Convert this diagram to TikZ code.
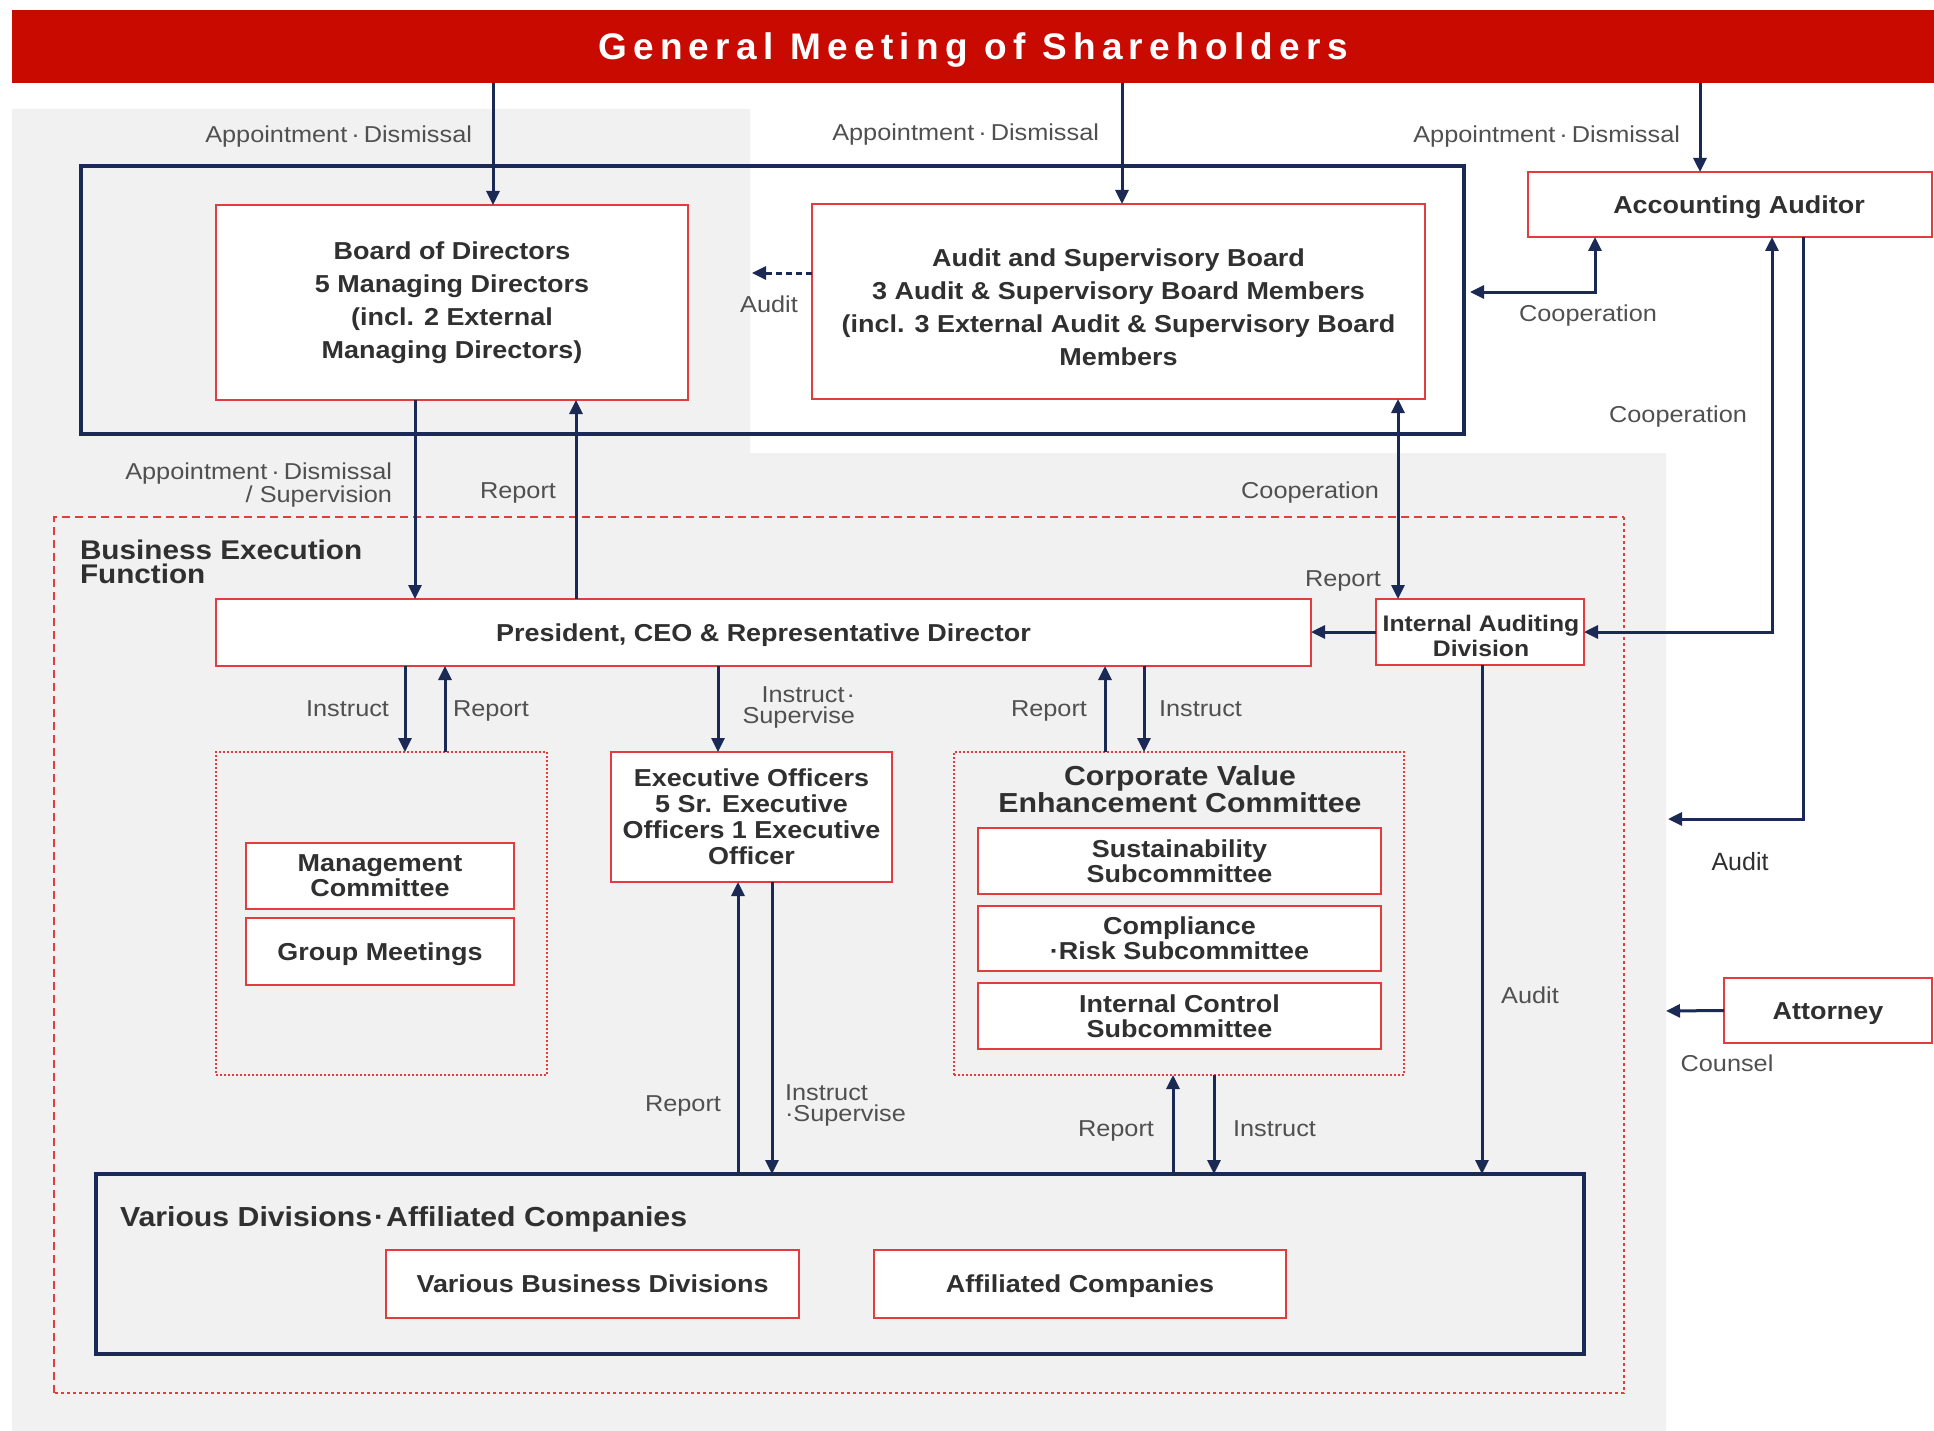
\documentclass[tikz,border=0pt]{standalone}
\usepackage{fontspec}
\setmainfont{Liberation Sans}
\newfontfamily\wf[FakeStretch=1.1]{Liberation Sans}
\newfontfamily\gmsf[LetterSpace=17]{Liberation Sans}
\usetikzlibrary{arrows.meta}
\definecolor{cRed}{RGB}{200,10,0}
\definecolor{cNavy}{RGB}{27,42,84}
\definecolor{cBoxRed}{RGB}{226,60,62}
\definecolor{cGrey}{RGB}{241,241,241}
\definecolor{cText}{RGB}{48,48,48}
\definecolor{cLab}{RGB}{80,80,80}
\newcommand{\jd}{\kern4pt·\kern4pt}
\begin{document}
\begin{tikzpicture}[x=1pt,y=-1pt,
  box/.style={draw=cBoxRed, line width=2pt, fill=white, inner sep=0pt, outer sep=0pt, align=center, text=cText,
    font=\wf\bfseries\fontsize{24.5}{26}\selectfont},
  sl/.style={text height=17.5pt, text depth=0pt},
  btext/.style={inner sep=0pt, outer sep=0pt, align=center, text=cText, font=\wf\bfseries\fontsize{24.5}{33}\selectfont},
  navybox/.style={draw=cNavy, line width=3.5pt, inner sep=0pt, outer sep=0pt},
  dotbox/.style={draw=cBoxRed, line width=2pt, dash pattern=on 2pt off 2pt, inner sep=0pt, outer sep=0pt},
  arr/.style={draw=cNavy, line width=3pt, -{Triangle[length=14pt,width=13pt]}},
  arrboth/.style={draw=cNavy, line width=3pt, {Triangle[length=14pt,width=13pt]}-{Triangle[length=14pt,width=13pt]}},
  arrdash/.style={draw=cNavy, line width=3pt, dash pattern=on 6pt off 4pt, -{Triangle[length=14pt,width=13pt]}},
  lab/.style={font=\wf\fontsize{23}{21}\selectfont, text=cLab, inner sep=0pt, outer sep=0pt},
  lab1/.style={lab, text height=16.5pt, text depth=0pt},
  title/.style={font=\wf\bfseries\fontsize{27.5}{27}\selectfont, text=cText, inner sep=0pt, outer sep=0pt}
]
\useasboundingbox (0,0) rectangle (1934,1431);
\fill[white] (0,0) rectangle (1934,1431);
% grey background
\fill[cGrey] (12,109) -- (750,109) -- (750,453) -- (1666,453) -- (1666,1431) -- (12,1431) -- cycle;

% top bar
\node[fill=cRed, minimum width=1922pt, minimum height=73pt, inner sep=0pt, outer sep=0pt, text=white,
  text height=26.5pt, text depth=0pt,
  font=\gmsf\bfseries\fontsize{37}{40}\selectfont] (gms) at (973,46.5) {General Meeting of Shareholders};

% governance box
\node[navybox, minimum width=1383pt, minimum height=268pt] (gov) at (772.5,300) {};
\node[box, minimum width=472pt, minimum height=195pt, font=\wf\bfseries\fontsize{24.5}{33}\selectfont] (bod) at (452,302.5)
  {Board of Directors\\5 Managing Directors\\(incl. 2 External\\Managing Directors)};
\node[box, minimum width=613pt, minimum height=195pt] (asb) at (1118.5,301.5) {};
\node[btext] (asbt) at (1118.5,307.5)
  {Audit and Supervisory Board\\3 Audit \& Supervisory Board Members\\(incl. 3 External Audit \& Supervisory Board\\Members};
\node[box, sl, minimum width=404pt, minimum height=65pt] (acc) at (1730,204.5) {\hspace{18pt}Accounting Auditor};

% business execution function
\node[inner sep=0pt, outer sep=0pt, minimum width=1570pt, minimum height=876pt] (bef) at (839,955) {};
\draw[cBoxRed, line width=2pt, dash pattern=on 8pt off 5pt] (bef.south west) -- (bef.north west) -- (bef.north east);
\draw[cBoxRed, line width=2pt, dash pattern=on 3pt off 3pt] (bef.north east) -- (bef.south east) -- (bef.south west);
\node[title, anchor=west, align=left, font=\wf\bfseries\fontsize{27}{24}\selectfont] (beft) at (80,562) {Business Execution\\Function};

\node[box, sl, minimum width=1095pt, minimum height=67pt] (ceo) at (763.5,632.5) {President, CEO \& Representative Director};
\node[box, minimum width=208pt, minimum height=66pt] (iad) at (1480,632) {};
\node[btext, font=\wf\bfseries\fontsize{22.5}{25}\selectfont] (iadt) at (1481,636) {Internal Auditing\\Division};

\node[dotbox, minimum width=331pt, minimum height=323pt] (mgmt) at (381.5,913.5) {};
\node[box, minimum width=268pt, minimum height=66pt, font=\wf\bfseries\fontsize{24.5}{25}\selectfont] (mc) at (380,876) {Management\\Committee};
\node[box, sl, minimum width=268pt, minimum height=67pt] (gm) at (380,951.5) {Group Meetings};

\node[box, minimum width=281pt, minimum height=130pt] (exo) at (751.5,817) {Executive Officers\\5 Sr. Executive\\Officers 1 Executive\\Officer};

\node[dotbox, minimum width=450pt, minimum height=323pt] (cve) at (1179,913.5) {};
\node[title, align=center] (cvet) at (1180,789.5) {Corporate Value\\Enhancement Committee};
\node[box, minimum width=403pt, minimum height=66pt, font=\wf\bfseries\fontsize{24.5}{25}\selectfont] (sus) at (1179.5,861) {Sustainability\\Subcommittee};
\node[box, minimum width=403pt, minimum height=65pt, font=\wf\bfseries\fontsize{24.5}{25}\selectfont] (crs) at (1179.5,938.5) {Compliance\\·Risk Subcommittee};
\node[box, minimum width=403pt, minimum height=66pt, font=\wf\bfseries\fontsize{24.5}{25}\selectfont] (ics) at (1179.5,1016) {Internal Control\\Subcommittee};

\node[navybox, minimum width=1488pt, minimum height=180pt] (vda) at (840,1264) {};
\node[title, anchor=west, text height=19.5pt, text depth=0pt] (vdat) at (120,1217) {Various Divisions\kern2pt·\kern2pt Affiliated Companies};
\node[box, sl, minimum width=413pt, minimum height=68pt] (vbd) at (592.5,1284) {Various Business Divisions};
\node[box, sl, minimum width=412pt, minimum height=68pt] (afc) at (1080,1284) {Affiliated Companies};

\node[box, sl, minimum width=208pt, minimum height=65pt] (att) at (1828,1010.5) {Attorney};

% free ends
\coordinate (auditL) at (752,273);
\coordinate (auditR) at (1668,819);
\coordinate (counselL) at (1666,1011);

% connectors
\draw[arr] ([xshift=41pt]bod.north |- gms.south) -- ([xshift=41pt]bod.north);
\draw[arr] ([xshift=3.5pt]asb.north |- gms.south) -- ([xshift=3.5pt]asb.north);
\draw[arr] ([xshift=-30pt]acc.north |- gms.south) -- ([xshift=-30pt]acc.north);
\draw[arrdash] ([yshift=28.5pt]asb.west) -- (auditL);
\draw[arrboth] ([xshift=-135pt]acc.south) |- ([xshift=6pt,yshift=8pt]gov.east);
\draw[arrboth] ([xshift=42pt]acc.south) |- (iad.east);
\draw[arr] ([xshift=73pt]acc.south) |- (auditR);
\draw[arr] (att.west) -- (counselL);
\draw[arrboth] ([xshift=279.5pt]asb.south) -- ([xshift=279.5pt]asb.south |- iad.north);
\draw[arr] (iad.west) -- (iad.west -| ceo.east);
\draw[arr] ([xshift=2pt]iad.south) -- ([xshift=2pt]iad.south |- vda.north);
\draw[arr] ([xshift=-37pt]bod.south) -- ([xshift=-37pt]bod.south |- ceo.north);
\draw[arr] ([xshift=124pt]bod.south |- ceo.north) -- ([xshift=124pt]bod.south);
\draw[arr] ([xshift=23.5pt]mgmt.north |- ceo.south) -- ([xshift=23.5pt]mgmt.north);
\draw[arr] ([xshift=63.5pt]mgmt.north) -- ([xshift=63.5pt]mgmt.north |- ceo.south);
\draw[arr] ([xshift=-33.5pt]exo.north |- ceo.south) -- ([xshift=-33.5pt]exo.north);
\draw[arr] ([xshift=-13.5pt]exo.south |- vda.north) -- ([xshift=-13.5pt]exo.south);
\draw[arr] ([xshift=20.5pt]exo.south) -- ([xshift=20.5pt]exo.south |- vda.north);
\draw[arr] ([xshift=-74pt]cve.north) -- ([xshift=-74pt]cve.north |- ceo.south);
\draw[arr] ([xshift=-35pt]cve.north |- ceo.south) -- ([xshift=-35pt]cve.north);
\draw[arr] ([xshift=-6pt]cve.south |- vda.north) -- ([xshift=-6pt]cve.south);
\draw[arr] ([xshift=35pt]cve.south) -- ([xshift=35pt]cve.south |- vda.north);

% labels
\node[lab1, anchor=east] (l1) at (472,134) {Appointment\jd Dismissal};
\node[lab1, anchor=east] (l2) at (1099,132) {Appointment\jd Dismissal};
\node[lab1, anchor=east] (l3) at (1680,134) {Appointment\jd Dismissal};
\node[lab1] (l4) at (769,304) {Audit};
\node[lab1] (l5) at (1588,313) {Cooperation};
\node[lab1] (l6) at (1678,414) {Cooperation};
\node[lab1, anchor=east] (l7) at (1379,490) {Cooperation};
\node[lab1, anchor=east] (l8) at (1381,578) {Report};
\node[inner sep=0pt, font=\fontsize{25}{25}\selectfont, text=cText, text height=18pt, text depth=0pt] (l9) at (1740,861) {Audit};
\node[lab1] (l10) at (1727,1063) {Counsel};
\node[lab, anchor=east, align=right] (l11) at (392,485) {Appointment\jd Dismissal\\/ Supervision};
\node[lab1] (l12) at (518,490) {Report};
\node[lab1, anchor=east] (l13) at (389,708) {Instruct};
\node[lab1, anchor=west] (l14) at (453,708) {Report};
\node[lab, anchor=east, align=right] (l15) at (855,707) {Instruct\kern2pt·\\Supervise};
\node[lab1, anchor=east] (l16) at (1087,708) {Report};
\node[lab1, anchor=west] (l17) at (1159,708) {Instruct};
\node[lab1, anchor=east] (l18) at (721,1103) {Report};
\node[lab, anchor=west, align=left] (l19) at (785,1105) {Instruct\\·Supervise};
\node[lab1, anchor=east] (l20) at (1154,1128) {Report};
\node[lab1, anchor=west] (l21) at (1233,1128) {Instruct};
\node[lab1] (l22) at (1530,995) {Audit};
\end{tikzpicture}
\end{document}
